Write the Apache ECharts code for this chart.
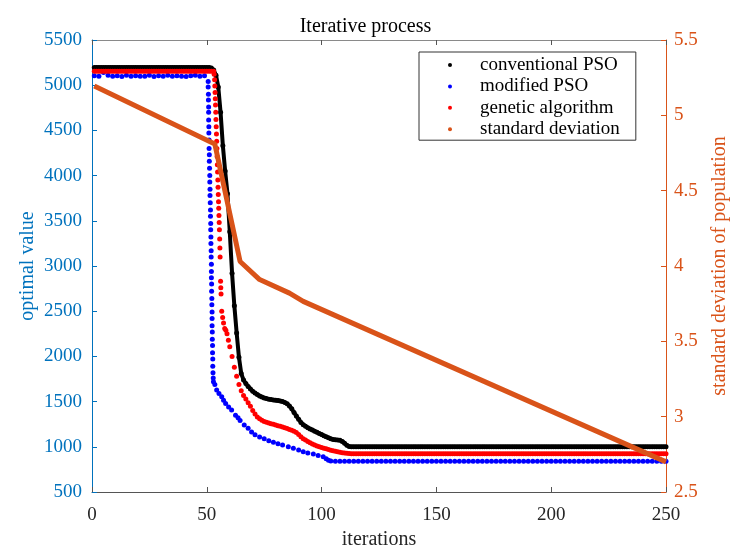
<!DOCTYPE html>
<html>
<head>
<meta charset="utf-8">
<script src="https://cdn.jsdelivr.net/npm/echarts@6/dist/echarts.min.js"></script>
<style>
html, body { margin: 0; padding: 0; background: #ffffff; }
#chart { width: 731px; height: 551px; }
</style>
</head>
<body>
<div id="chart"></div>
<script>
// Best value found per iteration, conventional PSO (iterations 1..250)
const conventionalPSO = [
  5195,5195,5195,5195,5195,5195,5195,5195,5195,5195,
  5195,5195,5195,5195,5195,5195,5195,5195,5195,5195,
  5195,5195,5195,5195,5195,5195,5195,5195,5195,5195,
  5195,5195,5195,5195,5195,5195,5195,5195,5195,5195,
  5195,5195,5195,5195,5195,5195,5195,5195,5195,5195,
  5195,
  5190,5168,5110,4980,4700,4330,4050,3800,3380,2920,
  2560,2260,1990,1810,1740,1700,1668,1640,1615,1595,
  1578,1563,1551,1541,1533,1527,1522,1519,1516,1512,
  1507,1500,1490,1475,1450,1420,1380,1340,1305,1270,
  1245,1228,1212,1198,1185,1172,1160,1148,1135,1122,
  1110,1100,1090,1082,1078,1075,1072,1060,1040,1018,
  1003,
  1000,1000,1000,1000,1000,1000,1000,1000,1000,1000,
  1000,1000,1000,1000,1000,1000,1000,1000,1000,1000,
  1000,1000,1000,1000,1000,1000,1000,1000,1000,1000,
  1000,1000,1000,1000,1000,1000,1000,1000,1000,1000,
  1000,1000,1000,1000,1000,1000,1000,1000,1000,1000,
  1000,1000,1000,1000,1000,1000,1000,1000,1000,1000,
  1000,1000,1000,1000,1000,1000,1000,1000,1000,1000,
  1000,1000,1000,1000,1000,1000,1000,1000,1000,1000,
  1000,1000,1000,1000,1000,1000,1000,1000,1000,1000,
  1000,1000,1000,1000,1000,1000,1000,1000,1000,1000,
  1000,1000,1000,1000,1000,1000,1000,1000,1000,1000,
  1000,1000,1000,1000,1000,1000,1000,1000,1000,1000,
  1000,1000,1000,1000,1000,1000,1000,1000,1000,1000,
  1000,1000,1000,1000,1000,1000,1000,1000
];

// Modified PSO: recorded every second iteration before and after the collapse
const modifiedHead = [ // iterations 1, 3, ..., 49
  5105,5100,5140,5110,5100,5105,5095,5110,5100,5105,
  5100,5100,5110,5095,5105,5100,5110,5100,5105,5100,
  5095,5105,5110,5100,5105
];
const modifiedDrop = [ // [iteration, value]
  [50.6,5040],[50.6,4980],[50.7,4900],[50.7,4836],[50.8,4760],[50.8,4700],[50.8,4615],
  [50.9,4540],[50.9,4470],[51.0,4394],[51.0,4300],[51.1,4230],[51.1,4160],[51.2,4080],
  [51.3,4000],[51.3,3930],[51.4,3850],[51.4,3780],[51.5,3700],[51.6,3620],[51.6,3550],
  [51.7,3470],[51.7,3400],[51.8,3320],[51.8,3250],[51.9,3170],[51.9,3100],[52.0,3020],
  [52.0,2940],[52.0,2870],[52.1,2800],[52.1,2720],[52.2,2640],[52.2,2570],[52.3,2490],
  [52.3,2420],[52.3,2340],[52.4,2270],[52.4,2190],[52.5,2120],[52.5,2040],[52.6,1970],
  [52.6,1890],[52.7,1820],[52.8,1760],[52.9,1720],
  [53.5,1690],[54.3,1628],[55.3,1590],[56.5,1554],[57.3,1515],[58.2,1478],[59.5,1440],
  [60.8,1407],[62.5,1350],[63.6,1320],[64.5,1290],[66.3,1240],[68,1204],[69.5,1165],
  [71,1132],[73,1108],[75,1090],[77,1068],[79,1050],[81,1035],[83,1020],[85.5,1000],
  [87.7,983],[90,965],[92,946],[94,932],[96.4,920],[98.5,905],[100.7,891],[102,868],
  [103,852],[104,843]
];
const modifiedTail = [ // iterations 106, 108, ..., 250
  840,840,840,840,840,840,840,840,840,840,
  840,840,840,840,840,840,840,840,840,840,
  840,840,840,840,840,840,840,840,840,840,
  840,840,840,840,840,840,840,840,840,840,
  840,840,840,840,840,840,840,840,840,840,
  840,840,840,840,840,840,840,840,840,840,
  840,840,840,840,840,840,840,840,840,840,
  840,840,840
];

// Genetic algorithm
const gaHead = [ // iterations 1..53
  5155,5155,5155,5155,5155,5155,5155,5155,5155,5155,
  5155,5155,5155,5155,5155,5155,5155,5155,5155,5155,
  5155,5155,5155,5155,5155,5155,5155,5155,5155,5155,
  5155,5155,5155,5155,5155,5155,5155,5155,5155,5155,
  5155,5155,5155,5155,5155,5155,5155,5155,5155,5155,
  5155,5155,5155
];
const gaDrop = [ // [iteration, value]
  [53.2,5120],[53.4,5060],[53.5,4990],[53.6,4920],[53.7,4850],[53.8,4780],[53.9,4700],
  [54.0,4620],[54.1,4540],[54.2,4460],[54.3,4380],[54.4,4300],[54.5,4210],[54.6,4120],
  [54.7,4040],[54.8,3950],[54.9,3870],[55.0,3790],[55.1,3710],[55.2,3640],[55.3,3560],
  [55.4,3480],[55.5,3400],[55.6,3300],[55.7,3200],[55.8,3100],
  [56.0,2830],[56.1,2760],[56.2,2690],
  [56.5,2500],[56.9,2430],[57.3,2370],[57.8,2310],[58.3,2290],[58.8,2250],[59.4,2180]
];
const gaTail = [ // iterations 60..250
  2108,2000,1880,1780,1690,1620,1568,1528,1488,1448,
  1402,1362,1330,1310,1295,1281,1271,1263,1256,1249,
  1241,1233,1226,1219,1211,1202,1192,1182,1171,1158,
  1135,1110,1090,1074,1059,1045,1032,1020,1010,1001,
  993,985,978,970,963,956,950,945,940,935,
  931,928,925,
  922,922,922,922,922,922,922,922,922,922,
  922,922,922,922,922,922,922,922,922,922,
  922,922,922,922,922,922,922,922,922,922,
  922,922,922,922,922,922,922,922,922,922,
  922,922,922,922,922,922,922,922,922,922,
  922,922,922,922,922,922,922,922,922,922,
  922,922,922,922,922,922,922,922,922,922,
  922,922,922,922,922,922,922,922,922,922,
  922,922,922,922,922,922,922,922,922,922,
  922,922,922,922,922,922,922,922,922,922,
  922,922,922,922,922,922,922,922,922,922,
  922,922,922,922,922,922,922,922,922,922,
  922,922,922,922,922,922,922,922,922,922,
  922,922,922,922,922,922,922,922
];

// Standard deviation of the population, [iteration, value]
const stdDeviation = [
  [1,5.195],[53.5,4.81],[64.5,4.03],[73,3.91],[86,3.82],[92,3.765],[250,2.70]
];

const xTicks = { min: 0, max: 250, interval: 50 };
const leftTicks = { min: 500, max: 5500, interval: 500 };
const rightTicks = { min: 2.5, max: 5.5, interval: 0.5 };

const FONT = '"Liberation Serif", "Times New Roman", serif';
const BLUE_AXIS = '#0072BD';
const ORANGE = '#D95319';
const DARK = '#262626';

// turn a run of values sampled at regular iterations into [iteration, value] pairs
function atIterations(first, step, values) {
  return values.map((v, i) => [first + i * step, v]);
}

const conventionalData = atIterations(1, 1, conventionalPSO);
const modifiedData = atIterations(1, 2, modifiedHead)
  .concat(modifiedDrop, atIterations(106, 2, modifiedTail));
const gaData = atIterations(1, 1, gaHead)
  .concat(gaDrop, atIterations(60, 1, gaTail));

const chart = echarts.init(document.getElementById('chart'), null, { renderer: 'canvas' });

const dot = (name, color, data, z) => ({
  name, type: 'scatter', data, z,
  symbol: 'circle', symbolSize: 5,
  itemStyle: { color, opacity: 1 },
  emphasis: { disabled: true },
  silent: true
});

const plain = v => String(v);

chart.setOption({
  animation: false,
  backgroundColor: '#ffffff',
  title: {
    text: 'Iterative process',
    left: 'center', top: 17, padding: 0,
    textStyle: { fontFamily: FONT, fontSize: 20, fontWeight: 'normal', color: '#000' }
  },
  grid: { left: 92, right: 65, top: 40, bottom: 59, containLabel: false, outerBoundsMode: 'none' },
  legend: {
    orient: 'vertical',
    left: 419, top: 52,
    padding: [3, 16, 1, 29],
    itemWidth: 4, itemHeight: 4, itemGap: 1.4,
    borderColor: '#333333', borderWidth: 1, backgroundColor: '#ffffff',
    textStyle: { fontFamily: FONT, fontSize: 19, color: '#000', lineHeight: 20, padding: [0, 0, 0, 23] },
    selectedMode: false,
    data: [
      { name: 'conventional PSO', icon: 'circle' },
      { name: 'modified PSO', icon: 'circle' },
      { name: 'genetic algorithm', icon: 'circle' },
      { name: 'standard deviation', icon: 'circle' }
    ]
  },
  xAxis: [
    {
      type: 'value', position: 'bottom', ...xTicks,
      name: 'iterations', nameLocation: 'middle', nameGap: 37,
      nameTextStyle: { fontFamily: FONT, fontSize: 20, color: DARK },
      axisLine: { show: true, onZero: false, lineStyle: { color: '#555555', width: 1 } },
      axisTick: { show: true, inside: true, length: 5, lineStyle: { color: '#555555' } },
      axisLabel: { fontFamily: FONT, fontSize: 19, color: DARK, margin: 14, formatter: plain },
      splitLine: { show: false }
    },
    {
      type: 'value', position: 'top', ...xTicks,
      axisLine: { show: true, onZero: false, lineStyle: { color: '#8a8a8a', width: 1 } },
      axisTick: { show: true, inside: true, length: 5, lineStyle: { color: '#555555' } },
      axisLabel: { show: false },
      splitLine: { show: false }
    }
  ],
  yAxis: [
    {
      type: 'value', position: 'left', ...leftTicks,
      name: 'optimal value', nameLocation: 'middle', nameGap: 54, nameRotate: 90,
      nameMoveOverlap: false,
      nameTextStyle: { fontFamily: FONT, fontSize: 20, color: BLUE_AXIS },
      axisLine: { show: true, onZero: false, lineStyle: { color: BLUE_AXIS, width: 1 } },
      axisTick: { show: true, inside: true, length: 5, lineStyle: { color: BLUE_AXIS } },
      axisLabel: { fontFamily: FONT, fontSize: 19, color: BLUE_AXIS, margin: 10, formatter: plain },
      splitLine: { show: false }
    },
    {
      type: 'value', position: 'right', ...rightTicks,
      name: 'standard deviation of population', nameLocation: 'middle', nameGap: 44, nameRotate: 90,
      nameTextStyle: { fontFamily: FONT, fontSize: 20, color: ORANGE },
      axisLine: { show: true, onZero: false, lineStyle: { color: ORANGE, width: 1 } },
      axisTick: { show: true, inside: true, length: 5, lineStyle: { color: ORANGE } },
      axisLabel: { fontFamily: FONT, fontSize: 19, color: ORANGE, margin: 8, formatter: plain },
      splitLine: { show: false }
    }
  ],
  series: [
    dot('conventional PSO', '#000000', conventionalData, 2),
    {
      // joins the conventional PSO dots so the steep part reads as one stroke
      name: 'conventional PSO', type: 'line', data: conventionalData, z: 1,
      symbol: 'none', lineStyle: { color: '#000000', width: 4 },
      itemStyle: { color: '#000000' }, silent: true, emphasis: { disabled: true }
    },
    dot('modified PSO', '#0000FF', modifiedData, 3),
    dot('genetic algorithm', '#FF0000', gaData, 4),
    {
      name: 'standard deviation', type: 'line', yAxisIndex: 1, data: stdDeviation, z: 5,
      symbol: 'none', lineStyle: { color: ORANGE, width: 5 },
      itemStyle: { color: ORANGE }, silent: true, emphasis: { disabled: true }
    }
  ]
});
</script>
</body>
</html>
